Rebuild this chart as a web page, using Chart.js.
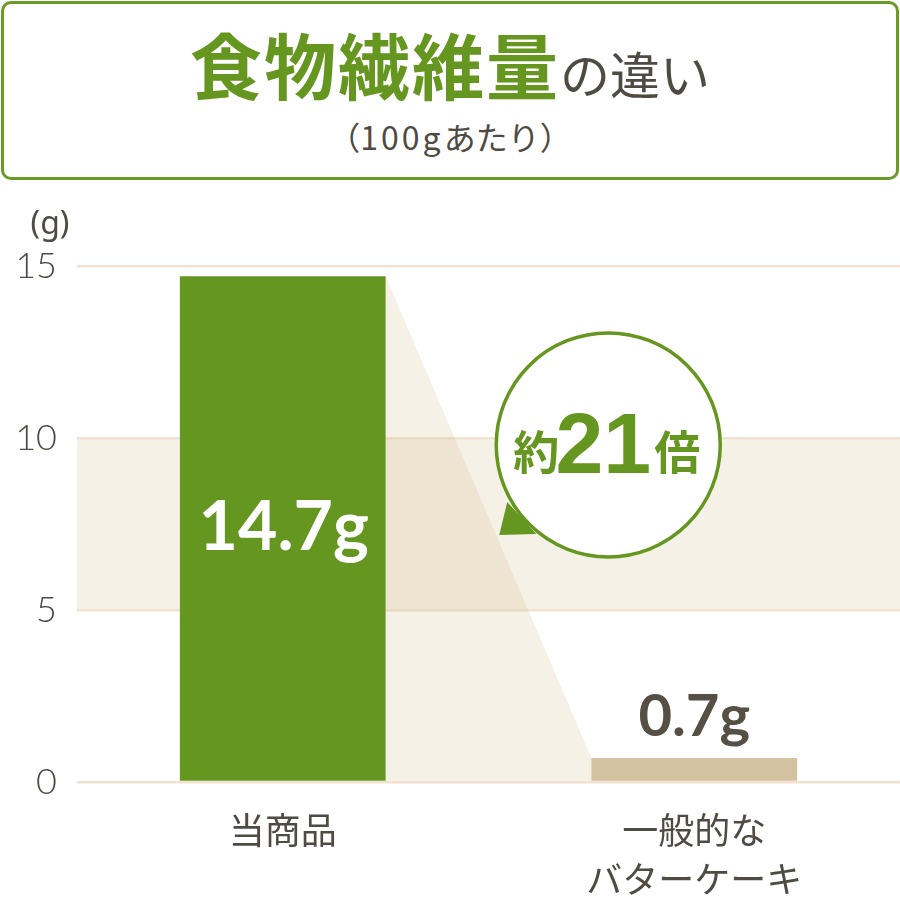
<!DOCTYPE html>
<html lang="ja">
<head>
<meta charset="utf-8">
<script src="https://cdn.jsdelivr.net/npm/chart.js@4.4.1/dist/chart.umd.min.js"></script>
<style>
    html, body { margin: 0; padding: 0; background: #fff; }
    body { width: 900px; height: 900px; position: relative; overflow: hidden; font-family: 'Noto Sans CJK JP', sans-serif; }
    .titleBox {
        position: absolute; left: 1px; top: 1px; width: 898px; height: 179px;
        box-sizing: border-box; border: 3px solid #6a9a27; border-radius: 10px;
    }
    .title {
        position: absolute; left: 0; right: 0; top: 18px; text-align: center;
        line-height: 90px; white-space: nowrap;
    }
    .title .big { font-size: 72px; font-weight: 700; color: #65961f; letter-spacing: 2px; }
    .title .small { font-size: 50px; font-weight: 400; color: #4f4a42; }
    .subtitle {
        position: absolute; left: 0; right: 0; top: 116px; text-align: center;
        font-size: 32px; line-height: 40px; color: #4f4a42;
    }
    .subtitle .num { letter-spacing: 3px; }
    #chartWrap { position: absolute; left: 0; top: 190px; width: 900px; height: 710px; }
</style>
</head>
<body>
<div class="titleBox"></div>
<div class="title"><span class="big">食物繊維量</span><span class="small">の違い</span></div>
<div class="subtitle">（<span class="num">100g</span>あたり）</div>
<div id="chartWrap"><canvas id="fiberChart" width="900" height="710"></canvas></div>

<script>
// === Data ===
const categories = [['当商品'], ['一般的な', 'バターケーキ']];
const fiberValues = [14.7, 0.7];
const valueLabels = ['14.7g', '0.7g'];
const yTicks = [0, 5, 10, 15];
const bandRange = [5, 10];
const ratioText = ['約', '21', '倍'];
const unitLabel = '(g)';

// === Colors ===
const green = '#65961f';
const beige = '#d4c19f';
const textGray = '#4f4a42';
const gridColor = '#f2e2cf';
const bandColor = '#f5f1e6';

const cjk = "'Noto Sans CJK JP', sans-serif";
const latin = "Lato, 'Noto Sans', sans-serif";

// band between 5 and 10, drawn under the grid
const bandPlugin = {
    id: 'band',
    beforeDraw(chart) {
        const { ctx, chartArea, scales } = chart;
        const top = scales.y.getPixelForValue(bandRange[1]);
        const bottom = scales.y.getPixelForValue(bandRange[0]);
        ctx.save();
        ctx.fillStyle = bandColor;
        ctx.fillRect(chartArea.left, top, chartArea.right - chartArea.left, bottom - top);
        ctx.restore();
    }
};

// shadow that links the top of bar 1 to the top of bar 2
const linkPlugin = {
    id: 'link',
    beforeDatasetsDraw(chart) {
        const { ctx } = chart;
        const bars = chart.getDatasetMeta(0).data;
        const a = bars[0], b = bars[1];
        const right0 = a.x + a.width / 2;
        const left1 = b.x - b.width / 2;
        ctx.save();
        ctx.fillStyle = 'rgba(205, 185, 130, 0.2)';
        ctx.beginPath();
        ctx.moveTo(right0, a.y);
        ctx.lineTo(left1, b.y);
        ctx.lineTo(left1, a.base);
        ctx.lineTo(right0, a.base);
        ctx.closePath();
        ctx.fill();
        ctx.restore();
    }
};

// value labels, unit label and the callout bubble
const labelPlugin = {
    id: 'labels',
    afterDatasetsDraw(chart) {
        const { ctx, chartArea } = chart;
        const bars = chart.getDatasetMeta(0).data;
        ctx.save();
        ctx.textAlign = 'center';
        ctx.textBaseline = 'middle';

        // 14.7g inside the green bar
        ctx.fillStyle = '#ffffff';
        ctx.font = `700 68px ${latin}`;
        ctx.fillText(valueLabels[0], bars[0].x + 1, (bars[0].y + bars[0].base) / 2);

        // 0.7g above the beige bar
        ctx.fillStyle = '#554f44';
        ctx.font = `700 58px ${latin}`;
        ctx.fillText(valueLabels[1], bars[1].x, bars[1].y - 41);

        // unit
        ctx.fillStyle = textGray;
        ctx.font = `400 32px 'Noto Sans', sans-serif`;
        ctx.fillText(unitLabel, chartArea.left - 27, chartArea.top - 41);

        // bubble
        const cx = bars[1].x - 86;
        const cy = chart.scales.y.getPixelForValue(9.8);
        ctx.fillStyle = green;
        ctx.beginPath();
        ctx.moveTo(cx - 101, cy + 57);
        ctx.lineTo(cx - 109, cy + 90);
        ctx.lineTo(cx - 72, cy + 89);
        ctx.closePath();
        ctx.fill();

        ctx.beginPath();
        ctx.arc(cx, cy, 112, 0, Math.PI * 2);
        ctx.fillStyle = '#ffffff';
        ctx.fill();
        ctx.lineWidth = 3.5;
        ctx.strokeStyle = green;
        ctx.stroke();

        ctx.fillStyle = green;
        ctx.textBaseline = 'alphabetic';
        ctx.font = `700 46px ${cjk}`;
        ctx.fillText(ratioText[0], cx - 72, cy + 24);
        ctx.fillText(ratioText[2], cx + 69, cy + 24);
        ctx.font = `700 86px 'Liberation Sans', Arial, sans-serif`;
        ctx.fillText(ratioText[1], cx - 5, cy + 28);

        ctx.restore();
    }
};

const ctx = document.getElementById('fiberChart').getContext('2d');
new Chart(ctx, {
    type: 'bar',
    data: {
        labels: categories,
        datasets: [{
            data: fiberValues,
            backgroundColor: [green, beige],
            borderWidth: 0,
            barPercentage: 0.5,
            categoryPercentage: 1
        }]
    },
    options: {
        responsive: false,
        animation: false,
        devicePixelRatio: 1,
        layout: { padding: { top: 76 } },
        plugins: {
            legend: { display: false },
            tooltip: { enabled: false }
        },
        scales: {
            x: {
                grid: { display: false },
                border: { display: false },
                ticks: {
                    color: textGray,
                    font: { family: cjk, size: 36, lineHeight: 1.36 },
                    padding: 16,
                    maxRotation: 0
                },
                afterFit(scale) { scale.height = 118; }
            },
            y: {
                min: 0,
                max: 15,
                afterBuildTicks(scale) { scale.ticks = yTicks.map(v => ({ value: v })); },
                grid: { color: gridColor, lineWidth: 2.5, drawTicks: false },
                border: { display: false },
                ticks: {
                    color: textGray,
                    font: { family: latin, size: 36, weight: 300 },
                    padding: 20
                },
                afterFit(scale) { scale.width = 77; }
            }
        }
    },
    plugins: [bandPlugin, linkPlugin, labelPlugin]
});
</script>
</body>
</html>
